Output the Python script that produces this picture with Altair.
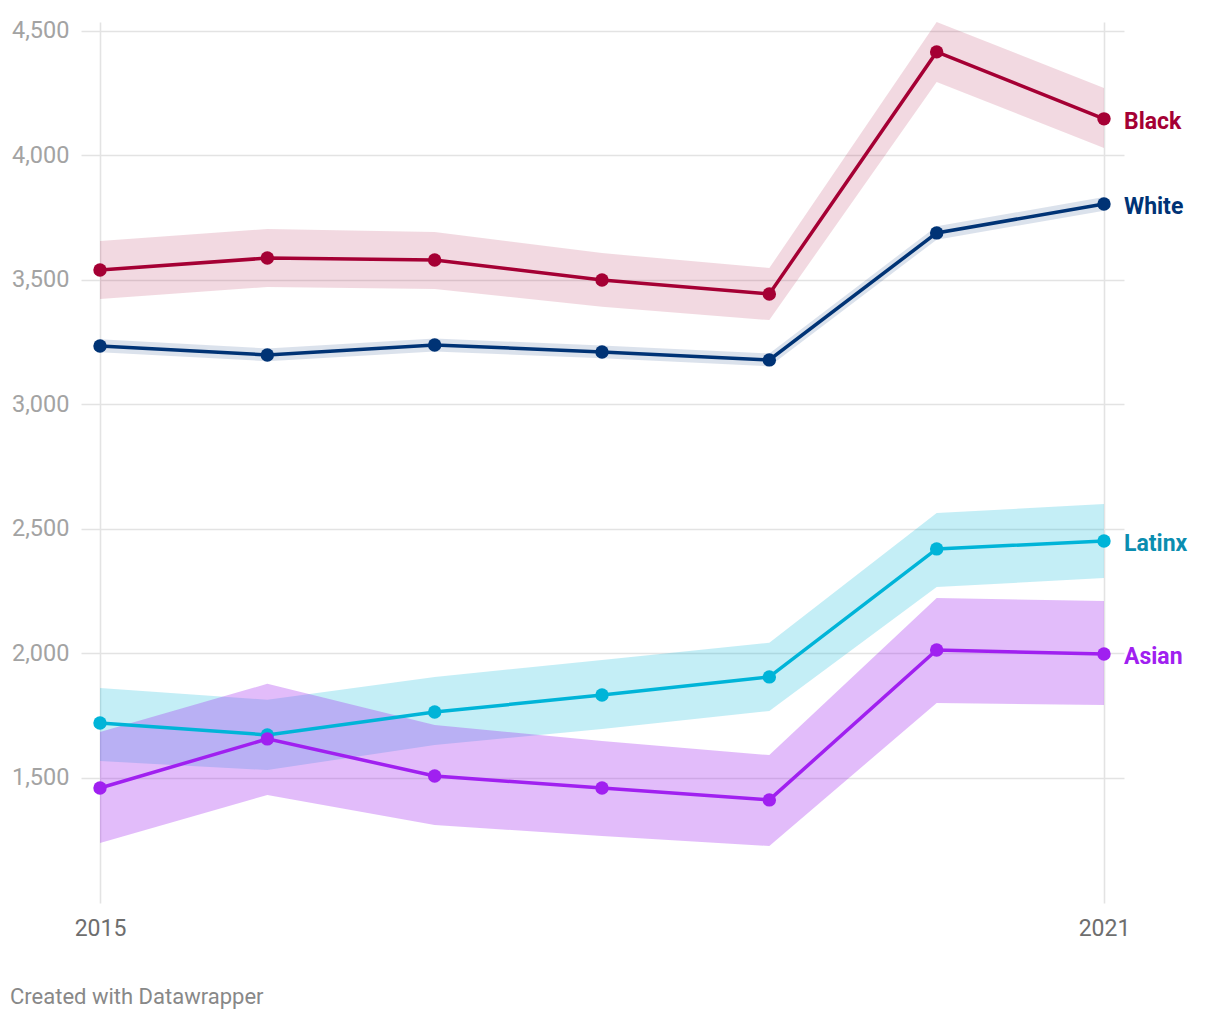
import altair as alt
import pandas as pd

years = [2015, 2016, 2017, 2018, 2019, 2020, 2021]
series_names = ["Black", "White", "Latinx", "Asian"]

black = [3540, 3588, 3580, 3500, 3444, 4416, 4147]
black_lo = [3424, 3472, 3464, 3392, 3339, 4295, 4030]
black_hi = [3657, 3705, 3693, 3608, 3548, 4536, 4271]

white = [3235, 3199, 3239, 3211, 3179, 3689, 3805]
white_lo = [3210, 3174, 3213, 3186, 3153, 3662, 3778]
white_hi = [3262, 3225, 3265, 3237, 3205, 3716, 3833]

latinx = [1721, 1673, 1765, 1833, 1906, 2420, 2452]
latinx_lo = [1568, 1532, 1633, 1697, 1769, 2267, 2303]
latinx_hi = [1861, 1814, 1906, 1974, 2043, 2564, 2600]

asian = [1460, 1657, 1508, 1460, 1412, 2014, 1998]
asian_lo = [1239, 1432, 1311, 1267, 1227, 1801, 1793]
asian_hi = [1685, 1878, 1713, 1649, 1592, 2223, 2211]

y_ticks = [1500, 2000, 2500, 3000, 3500, 4000, 4500]
x_ticks = [2015, 2021]

line_colors = ["#a50034", "#003375", "#00b4d8", "#a020f0"]
label_colors = ["#a50034", "#003375", "#0a8db0", "#a020f0"]
band_colors = ["rgba(165,0,52,0.15)", "rgba(0,51,117,0.14)",
               "rgba(0,180,216,0.23)", "rgba(160,32,240,0.30)"]

rows = []
for name, v, lo, hi in [
    ("Black", black, black_lo, black_hi),
    ("White", white, white_lo, white_hi),
    ("Latinx", latinx, latinx_lo, latinx_hi),
    ("Asian", asian, asian_lo, asian_hi),
]:
    for yr, a, b, c in zip(years, v, lo, hi):
        rows.append({"series": name, "year": yr, "value": a, "lo": b, "hi": c})
df = pd.DataFrame(rows)

FONT = "Roboto"
xscale = alt.Scale(domain=[2014.8865, 2021.1195], nice=False, zero=False)
yscale = alt.Scale(domain=[998, 4536], nice=False, zero=False)

xaxis = alt.Axis(values=x_ticks, format="d", title=None, domain=False, ticks=False,
                 grid=True, gridColor="#e3e3e3", gridWidth=1.6,
                 labelFont=FONT, labelFontSize=23, labelColor="#6e6e6e",
                 labelPadding=14)
yaxis = alt.Axis(values=y_ticks, format=",.0f", title=None, domain=False, ticks=False,
                 grid=True, gridColor="#e3e3e3", gridWidth=1.6,
                 labelFont=FONT, labelFontSize=23.5, labelColor="#a3a3a3",
                 labelPadding=12)

x = alt.X("year:Q", scale=xscale, axis=xaxis)
y = alt.Y("value:Q", scale=yscale, axis=yaxis)

color = alt.Color("series:N", scale=alt.Scale(domain=series_names, range=line_colors), legend=None)

base = alt.Chart(df)

bands = base.mark_area(interpolate="linear", opacity=1).encode(
    x=x,
    y=alt.Y("lo:Q", scale=yscale, axis=yaxis),
    y2="hi:Q",
    color=alt.Color("series:N", scale=alt.Scale(domain=series_names, range=band_colors), legend=None),
    detail="series:N",
)

lines = base.mark_line(strokeWidth=3.5).encode(
    x=x, y=y, color=color,
    order=alt.Order("year:Q"),
)

points = base.mark_circle(size=180, opacity=1).encode(
    x=x, y=y, color=color,
)

labels = base.transform_filter(alt.datum.year == 2021).mark_text(
    align="left", baseline="middle", dx=20, dy=3, font=FONT, fontSize=23, fontWeight="bold"
).encode(
    x=x, y=y, text="series:N",
    color=alt.Color("series:N", scale=alt.Scale(domain=series_names, range=label_colors), legend=None),
)

chart = alt.layer(bands, lines, points, labels).resolve_scale(color="independent").properties(
    width=1043,
    height=881,
    background="white",
    autosize=alt.AutoSizeParams(type="none"),
    padding={"left": 73, "top": 14, "right": 80, "bottom": 110},
    title=alt.TitleParams(
        "Created with Datawrapper", orient="bottom", anchor="start", frame="group",
        dx=-71, offset=47, font=FONT, fontSize=22, fontWeight="normal", color="#888888",
    ),
).configure_view(strokeWidth=0)

chart.save("out.html", embed_options={"renderer": "svg", "actions": False})
